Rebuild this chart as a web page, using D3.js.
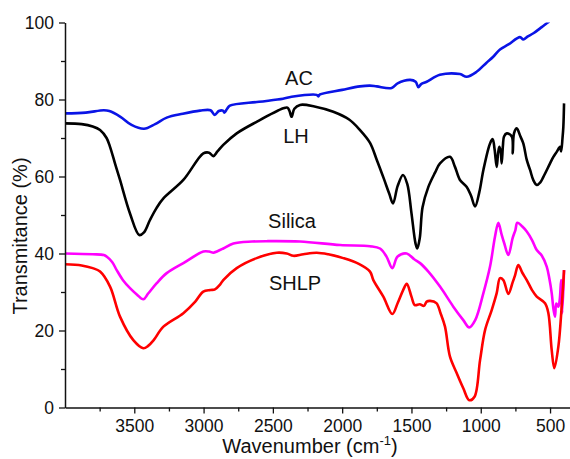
<!DOCTYPE html>
<html>
<head>
<meta charset="utf-8">
<script src="https://cdn.jsdelivr.net/npm/d3@7"></script>
<style>
  body { margin: 0; background: #fff; }
  text { font-family: "Liberation Sans", Arial, sans-serif; }
</style>
</head>
<body>
<svg id="chart" width="570" height="459"></svg>
<script>
"use strict";

// [wavenumber (cm-1), transmittance (%)]
const acData = [[4000,76.4],[3850,76.6],[3720,77.2],[3680,77.0],[3600,75.5],[3520,73.4],[3430,72.4],[3350,73.6],[3266,75.3],[3150,76.3],[3026,77.1],[2950,77.2],[2920,76.0],[2890,77.0],[2860,77.1],[2850,76.6],[2830,77.6],[2810,78.4],[2600,79.4],[2427,80.2],[2365,80.7],[2184,81.2],[2172,80.8],[2160,81.3],[2000,82.5],[1872,83.4],[1800,83.6],[1750,83.4],[1643,83.0],[1600,84.2],[1510,85.1],[1470,84.6],[1450,83.2],[1430,84.0],[1390,84.6],[1295,86.4],[1150,86.6],[1102,85.9],[1030,87.2],[960,89.5],[910,91.1],[861,93.0],[800,94.3],[717,96.2],[693,95.6],[660,96.4],[620,97.2],[560,98.8],[524,99.8],[505,100.3]];

const lhData = [[4000,73.8],[3880,73.6],[3800,73.0],[3747,72.1],[3700,70.0],[3675,67.7],[3640,63.5],[3603,59.1],[3531,50.4],[3464,44.8],[3430,45.5],[3387,48.7],[3340,51.8],[3290,54.3],[3146,59.1],[3002,66.0],[2960,66.2],[2930,65.3],[2900,66.5],[2858,68.2],[2761,71.2],[2617,74.2],[2425,77.7],[2395,77.9],[2380,77.0],[2365,75.5],[2345,77.6],[2304,78.6],[2200,78.2],[2064,76.8],[1950,74.8],[1872,72.1],[1800,68.8],[1750,64.3],[1700,59.5],[1660,55.5],[1633,53.0],[1600,57.5],[1561,60.4],[1530,58.0],[1500,50.5],[1470,42.5],[1458,41.3],[1440,44.0],[1420,52.0],[1378,57.3],[1330,61.0],[1294,63.4],[1222,65.1],[1186,62.5],[1150,59.1],[1101,57.3],[1070,55.0],[1041,52.2],[1010,56.0],[981,61.7],[933,68.6],[914,69.7],[900,67.0],[885,62.5],[875,66.0],[866,67.7],[856,66.5],[849,63.4],[840,68.0],[832,70.4],[812,71.2],[776,70.4],[769,66.0],[760,71.2],[740,72.5],[715,70.5],[693,68.6],[668,64.3],[644,61.7],[620,59.0],[596,57.8],[570,58.5],[548,59.9],[500,63.4],[476,65.1],[452,66.4],[428,67.7],[420,66.5],[410,70.0],[404,72.9],[399,79.0]];

const silicaData = [[4000,40.0],[3800,39.8],[3720,39.6],[3700,39.2],[3660,37.8],[3627,35.7],[3580,33.0],[3531,31.0],[3480,29.3],[3435,28.1],[3400,29.6],[3338,32.3],[3266,34.9],[3146,37.5],[3002,40.5],[2960,40.5],[2930,40.2],[2900,40.6],[2858,41.3],[2785,42.6],[2650,43.1],[2544,43.2],[2304,43.1],[2015,42.2],[1799,41.9],[1727,41.3],[1680,39.2],[1638,36.2],[1600,39.2],[1534,40.0],[1480,38.5],[1438,37.5],[1378,35.3],[1294,31.4],[1198,26.2],[1126,22.7],[1083,20.8],[1040,22.7],[981,29.7],[933,36.6],[897,44.4],[873,48.0],[850,45.0],[830,42.6],[801,39.6],[770,44.0],[750,46.1],[736,48.0],[700,47.0],[668,45.7],[630,43.5],[596,40.9],[560,39.5],[524,36.6],[505,33.5],[488,29.7],[475,25.5],[464,23.6],[455,27.0],[440,26.2],[430,28.0],[420,33.1],[412,24.5],[399,35.7]];

const shlpData = [[4000,37.2],[3880,36.9],[3800,36.2],[3747,35.3],[3675,31.4],[3603,23.6],[3507,17.5],[3435,15.4],[3400,16.0],[3360,17.5],[3290,21.0],[3146,24.5],[3060,27.5],[3002,30.1],[2950,30.5],[2918,30.7],[2880,32.0],[2858,33.1],[2761,36.2],[2617,38.8],[2472,40.2],[2400,40.0],[2352,39.4],[2280,39.8],[2184,40.2],[2100,39.8],[1992,38.8],[1880,37.3],[1799,35.3],[1775,33.1],[1703,28.8],[1638,24.3],[1600,27.1],[1560,30.5],[1534,32.1],[1500,28.8],[1476,26.6],[1440,26.8],[1410,26.4],[1390,27.5],[1366,27.7],[1320,27.1],[1290,24.5],[1258,21.0],[1222,13.2],[1173,8.9],[1126,5.0],[1083,1.9],[1045,2.8],[1005,12.3],[969,20.1],[921,25.3],[885,29.7],[861,33.6],[837,33.1],[801,29.5],[770,32.5],[752,34.4],[729,37.0],[700,35.0],[668,33.1],[630,30.5],[596,28.8],[536,27.1],[512,24.5],[488,14.9],[469,10.2],[440,15.8],[416,26.2],[399,35.7]];

const xTicks = [3500, 3000, 2500, 2000, 1500, 1000, 500];
const xMinorTicks = [3750, 3250, 2750, 2250, 1750, 1250, 750];
const yTicks = [0, 20, 40, 60, 80, 100];
const yMinorTicks = [10, 30, 50, 70, 90];

const series = [
  { name: "AC", data: acData, color: "#0a14e6", lx: 299, ly: 85 },
  { name: "LH", data: lhData, color: "#000000", lx: 296, ly: 143 },
  { name: "Silica", data: silicaData, color: "#ff00ff", lx: 292, ly: 228 },
  { name: "SHLP", data: shlpData, color: "#ff0000", lx: 295, ly: 290 }
];

const svg = d3.select("#chart");

const x = d3.scaleLinear().domain([4000, 356]).range([65, 570]);
const y = d3.scaleLinear().domain([0, 100]).range([407.5, 22.5]);

svg.append("defs")
  .append("clipPath")
  .attr("id", "plotClip")
  .append("rect")
  .attr("x", 65)
  .attr("y", 22.5)
  .attr("width", 505)
  .attr("height", 385);

// curves
const line = d3.line()
  .x((d) => x(d[0]))
  .y((d) => y(d[1]))
  .curve(d3.curveCatmullRom.alpha(0.5));

const plot = svg.append("g").attr("clip-path", "url(#plotClip)");

plot.selectAll(".spectrum")
  .data(series)
  .enter()
  .append("path")
  .attr("class", "spectrum")
  .attr("fill", "none")
  .attr("stroke", (d) => d.color)
  .attr("stroke-width", 2.6)
  .attr("stroke-linejoin", "round")
  .attr("d", (d) => line(d.data));

svg.selectAll(".curve-label")
  .data(series)
  .enter()
  .append("text")
  .attr("class", "curve-label")
  .attr("x", (d) => d.lx)
  .attr("y", (d) => d.ly)
  .attr("text-anchor", "middle")
  .attr("font-size", 20)
  .attr("fill", "#111")
  .text((d) => d.name);

// axes
const xAxis = svg.append("g")
  .attr("transform", `translate(0,${y(0)})`)
  .call(d3.axisBottom(x).tickValues(xTicks).tickSize(6).tickSizeOuter(0).tickPadding(6).tickFormat(d3.format("d")));

svg.append("g")
  .attr("transform", `translate(0,${y(0)})`)
  .call(d3.axisBottom(x).tickValues(xMinorTicks).tickSize(4).tickSizeOuter(0).tickFormat(""))
  .select(".domain").remove();

const yAxis = svg.append("g")
  .attr("transform", `translate(${x(4000)},0)`)
  .call(d3.axisLeft(y).tickValues(yTicks).tickSize(6).tickSizeOuter(0).tickPadding(5));

svg.append("g")
  .attr("transform", `translate(${x(4000)},0)`)
  .call(d3.axisLeft(y).tickValues(yMinorTicks).tickSize(4).tickSizeOuter(0).tickFormat(""))
  .select(".domain").remove();

svg.selectAll(".domain").attr("stroke-width", 1.5).attr("stroke", "#111");
svg.selectAll(".tick line").attr("stroke-width", 1.3).attr("stroke", "#111");
svg.selectAll(".tick text")
  .attr("font-size", 17.5)
  .attr("font-family", "Liberation Sans, Arial, sans-serif")
  .attr("fill", "#111");

// axis titles
const xTitle = svg.append("text")
  .attr("x", 310)
  .attr("y", 453)
  .attr("text-anchor", "middle")
  .attr("font-size", 20)
  .attr("fill", "#111");
xTitle.append("tspan").text("Wavenumber (cm");
xTitle.append("tspan").attr("font-size", 13).attr("dy", -8).text("-1");
xTitle.append("tspan").attr("dy", 8).text(")");

svg.append("text")
  .attr("transform", "translate(27,236) rotate(-90)")
  .attr("text-anchor", "middle")
  .attr("font-size", 20)
  .attr("fill", "#111")
  .text("Transmitance (%)");
</script>
</body>
</html>
